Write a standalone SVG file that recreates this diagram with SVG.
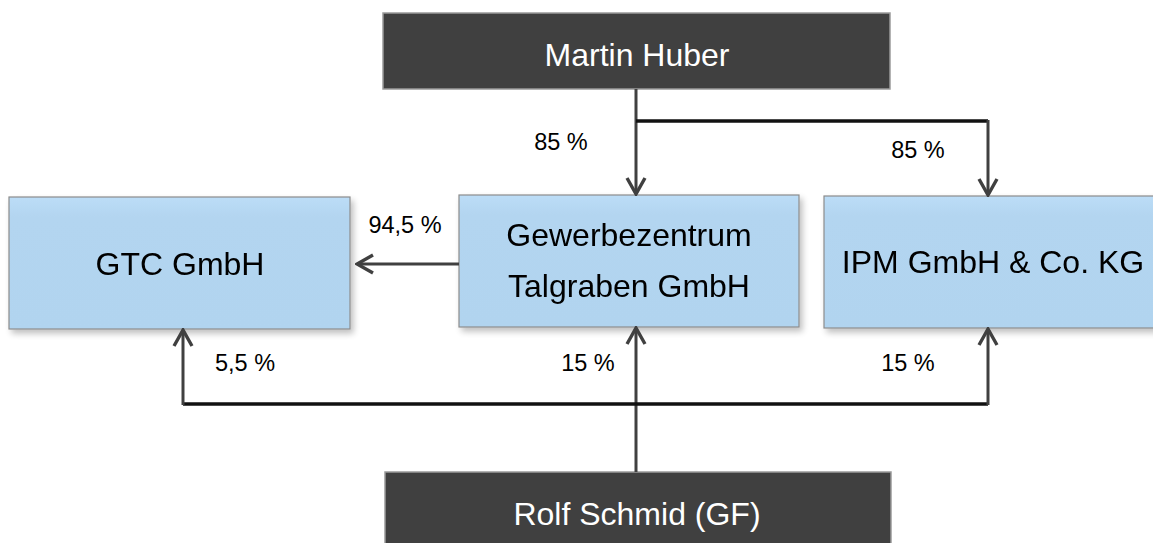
<svg xmlns="http://www.w3.org/2000/svg" width="1153" height="543" viewBox="0 0 1153 543">
<style>
.dark{fill:#404040;stroke:#9a9a9a;stroke-width:1.5}
.light{fill:url(#lg);stroke:#8c8c8c;stroke-width:1.2}
.tw{font-family:"Liberation Sans",Arial,sans-serif;font-size:32px;fill:#ffffff;text-anchor:middle}
.tb{font-family:"Liberation Sans",Arial,sans-serif;font-size:32px;fill:#000000;text-anchor:middle}
.lbl{font-family:"Liberation Sans",Arial,sans-serif;font-size:23.5px;fill:#000000;text-anchor:middle}
.con{fill:none;stroke:#404040;stroke-width:3}
.bus{fill:none;stroke:#111111;stroke-width:3.5}
</style>
<defs>
<linearGradient id="lg" x1="0" y1="0" x2="0" y2="1">
<stop offset="0" stop-color="#BCDDF7"/>
<stop offset="0.15" stop-color="#B3D5F0"/>
<stop offset="1" stop-color="#B1D4EF"/>
</linearGradient>
<filter id="sh" x="-10%" y="-10%" width="125%" height="130%">
<feGaussianBlur in="SourceAlpha" stdDeviation="3"/>
<feOffset dx="3" dy="4" result="b"/>
<feComponentTransfer><feFuncA type="linear" slope="0.25"/></feComponentTransfer>
<feMerge><feMergeNode/><feMergeNode in="SourceGraphic"/></feMerge>
</filter>
<marker id="arr" viewBox="0 0 22 22" refX="20" refY="11" markerWidth="22" markerHeight="22" markerUnits="userSpaceOnUse" orient="auto">
<path d="M4,2 L20,11 L4,20" fill="none" stroke="#404040" stroke-width="3.4" stroke-linejoin="miter"/>
</marker>
</defs>

<g id="martin-huber">
<rect class="dark" x="383" y="13" width="507" height="76"/>
<text class="tw" x="637" y="66">Martin Huber</text>
</g>

<g id="gtc-gmbh" filter="url(#sh)">
<rect class="light" x="9" y="197" width="341" height="132"/>
<text class="tb" x="180" y="275">GTC GmbH</text>
</g>

<g id="gewerbezentrum" filter="url(#sh)">
<rect class="light" x="459" y="195" width="340" height="132"/>
<text class="tb" x="629" y="246">Gewerbezentrum</text>
<text class="tb" x="629" y="297">Talgraben GmbH</text>
</g>

<g id="ipm" filter="url(#sh)">
<rect class="light" x="824" y="196" width="345" height="132"/>
<text class="tb" x="993" y="273">IPM GmbH &amp; Co. KG</text>
</g>

<g id="rolf-schmid">
<rect class="dark" x="385" y="472" width="506" height="80"/>
<text class="tw" x="637" y="525">Rolf Schmid (GF)</text>
</g>

<g id="connectors">
<path class="con" d="M636,89 L636,194" marker-end="url(#arr)"/>
<path class="bus" d="M636,121 L988,121"/>
<path class="con" d="M988,120 L988,195" marker-end="url(#arr)"/>
<path class="con" d="M459,264 L357,264" marker-end="url(#arr)"/>
<path class="con" d="M636,472 L636,328" marker-end="url(#arr)"/>
<path class="bus" d="M183,404 L988,404"/>
<path class="con" d="M183,405 L183,330" marker-end="url(#arr)"/>
<path class="con" d="M988,405 L988,329" marker-end="url(#arr)"/>
</g>

<g id="labels">
<text class="lbl" x="561" y="150">85 %</text>
<text class="lbl" x="918" y="158">85 %</text>
<text class="lbl" x="405" y="233">94,5 %</text>
<text class="lbl" x="245" y="371">5,5 %</text>
<text class="lbl" x="588" y="371">15 %</text>
<text class="lbl" x="908" y="371">15 %</text>
</g>
</svg>
